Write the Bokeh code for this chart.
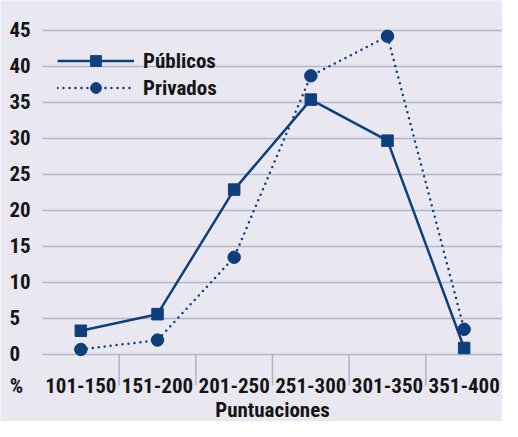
import numpy as np
from bokeh.plotting import figure
from bokeh.models import Range1d, Legend, LegendItem
from bokeh.core.properties import value
from bokeh.embed import file_html
from bokeh.resources import INLINE

# ---- data ----
categories = ["101-150", "151-200", "201-250", "251-300", "301-350", "351-400"]
publicos = [3.3, 5.6, 22.9, 35.4, 29.7, 0.9]
privados = [0.7, 2.0, 13.5, 38.7, 44.2, 3.5]
y_ticks = [0, 5, 10, 15, 20, 25, 30, 35, 40, 45]
y_tick_labels = [str(t) for t in y_ticks]
y_unit_label = "%"
x_title = "Puntuaciones"
series_names = ["Públicos", "Privados"]

# ---- style ----
FONT = "Roboto Condensed"
FS = "21px"
STYLE = "bold"
BG = "#E9E8F1"
LINE = "#0F3F7B"
GRID = "#B3B5CC"
TXT = "#151515"

W, H = 502, 421
LEFT = 42            # px from figure left to first category boundary
CW = (W - LEFT) / len(categories)   # px per category
ZERO, TOP = 354, 30  # px rows of the 0 and 45 gridlines
n = len(categories)
ppu = (ZERO - TOP) / (y_ticks[-1] - y_ticks[0])


def dx(px):
    return px / CW


def dy(px):
    return px / ppu


p = figure(width=W, height=H, output_backend="svg", toolbar_location=None,
           x_axis_location=None, y_axis_location=None,
           x_range=Range1d(-dx(LEFT), n),
           y_range=Range1d(-dy(H - ZERO), y_ticks[-1] + dy(TOP)),
           min_border=0)
p.background_fill_color = BG
p.border_fill_color = BG
p.outline_line_color = None
p.grid.visible = False

centers = np.arange(n) + 0.5
bounds = np.arange(1, n)
yt = np.array(y_ticks, dtype=float)

# horizontal gridlines across the category area
p.segment(x0=0, x1=n, y0=yt, y1=yt, line_color=GRID, line_width=1.6)
# category separators below the zero line
p.segment(x0=bounds, x1=bounds, y0=0, y1=-dy(31), line_color=GRID, line_width=1.6)

txt = dict(text_font=value(FONT), text_font_size=value(FS), text_font_style=STYLE,
           text_color=TXT)
# y tick labels, left aligned, sitting on their gridlines
p.text(x=-dx(33), y=yt + dy(1.5), text=y_tick_labels, text_align="left",
       text_baseline="alphabetic", **txt)
# unit label and category labels
p.text(x=[-dx(26)], y=[-dy(31)], text=[y_unit_label], text_align="center",
       text_baseline="alphabetic", **txt)
p.text(x=centers, y=-dy(31), text=categories, text_align="center",
       text_baseline="alphabetic", **txt)
# axis title
p.text(x=[n / 2], y=[-dy(55)], text=[x_title], text_align="center",
       text_baseline="alphabetic", **txt)

# series
l1 = p.line(centers, publicos, line_color=LINE, line_width=2.5)
s1 = p.scatter(centers, publicos, marker="square", size=11.5, color=LINE)
l2 = p.line(centers, privados, line_color=LINE, line_width=2.5,
            line_dash="0 6", line_cap="round")
s2 = p.scatter(centers, privados, marker="circle", size=12.5, color=LINE)

legend = Legend(items=[LegendItem(label=series_names[0], renderers=[l1, s1]),
                       LegendItem(label=series_names[1], renderers=[l2, s2])],
                location=(57, 320), orientation="vertical",
                glyph_width=77, glyph_height=27, label_height=27, spacing=0,
                padding=0, margin=0, label_standoff=9,
                background_fill_alpha=0, border_line_color=None,
                label_text_font=FONT, label_text_font_size=FS,
                label_text_font_style=STYLE, label_text_color=TXT)
p.add_layout(legend, "center")

open("out.html", "w").write(file_html(p, INLINE))
